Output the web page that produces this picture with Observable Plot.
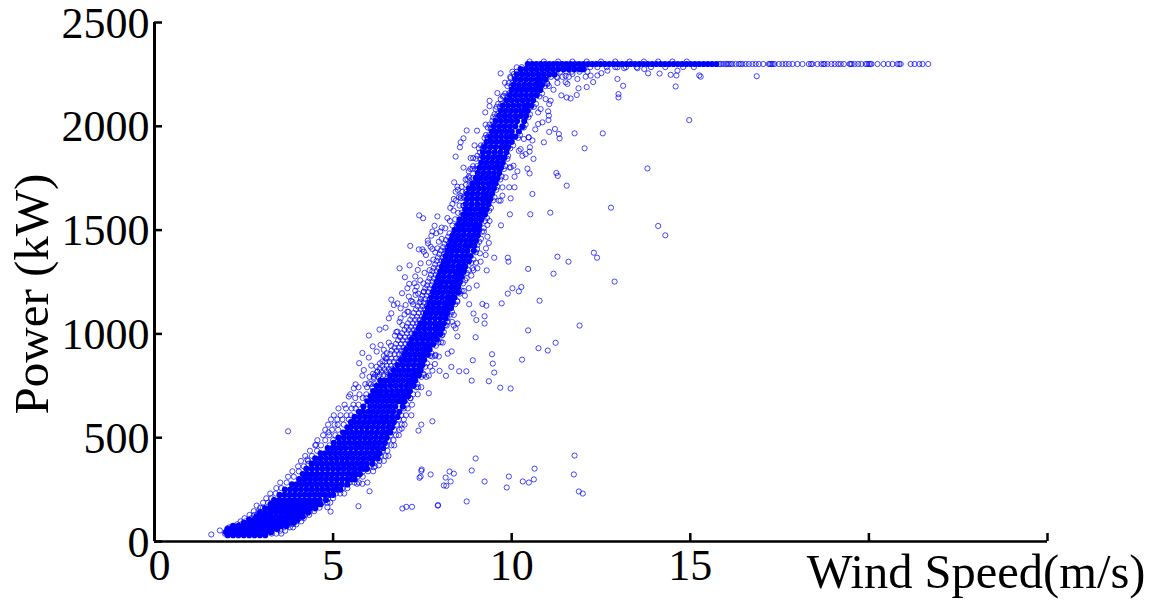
<!DOCTYPE html>
<html>
<head>
<meta charset="utf-8">
<script src="https://cdn.jsdelivr.net/npm/d3@7"></script>
<script src="https://cdn.jsdelivr.net/npm/@observablehq/plot@0.6"></script>
<style>html,body{margin:0;padding:0;background:#fff}</style>
</head>
<body>
<div id="chart"></div>
<script>
const xLabelTicks = [5, 10, 15];
const xZeroTick = [0];
const xTicks = [0, 5, 10, 15, 20, 25];
const yTicks = [0, 500, 1000, 1500, 2000, 2500];
const xTitle = "Wind Speed(m/s)";
const yTitle = "Power (kW)";

// Overplotted core of the cloud: [power, wind speeds...]
const coreRows = [
[30,2.05,2.2,2.35,2.5,2.65,2.8,2.95,3.1],
[45,2.0,2.14,2.28,2.42,2.56,2.7,2.84,2.98,3.12,3.26],
[60,2.05,2.18,2.31,2.45,2.6,2.74,2.88,3.02,3.16,3.3,3.44],
[75,2.2,2.35,2.5,2.65,2.8,2.95,3.1,3.25,3.4,3.55,3.7],
[90,2.5,2.64,2.78,2.92,3.06,3.2,3.34,3.48,3.62,3.76,3.9],
[105,2.65,2.8,2.95,3.1,3.25,3.4,3.55,3.7,3.85,4.0],
[120,2.85,2.98,3.12,3.26,3.4,3.54,3.68,3.82,3.96,4.05,4.15],
[140,2.95,3.1,3.25,3.4,3.55,3.7,3.85,4.0,4.15,4.3],
[160,3.1,3.24,3.38,3.52,3.66,3.8,3.94,4.08,4.22,4.36,4.5],
[180,3.25,3.4,3.55,3.7,3.85,4.0,4.15,4.3,4.45,4.55,4.65],
[200,3.35,3.5,3.64,3.78,3.92,4.06,4.2,4.34,4.48,4.62,4.8],
[225,3.5,3.64,3.78,3.92,4.06,4.2,4.34,4.48,4.62,4.76,4.9,5.0],
[250,3.65,3.8,3.95,4.1,4.25,4.4,4.55,4.7,4.85,5.0,5.1,5.2],
[275,3.85,3.98,4.12,4.26,4.4,4.54,4.68,4.82,4.96,5.1,5.24,5.4],
[300,4.05,4.2,4.35,4.5,4.65,4.8,4.95,5.1,5.25,5.4,5.5,5.6],
[325,4.15,4.28,4.42,4.56,4.7,4.84,4.98,5.12,5.26,5.4,5.54,5.65,5.75],
[350,4.25,4.4,4.55,4.7,4.85,5.0,5.15,5.3,5.45,5.6,5.75,5.85,5.95],
[375,4.4,4.54,4.68,4.82,4.96,5.1,5.24,5.38,5.52,5.66,5.8,5.94,6.1],
[400,4.5,4.65,4.8,4.95,5.1,5.25,5.4,5.55,5.7,5.85,6.0,6.12,6.25],
[425,4.65,4.78,4.92,5.06,5.2,5.34,5.48,5.62,5.76,5.9,6.04,6.18,6.3],
[450,4.85,4.98,5.1,5.22,5.35,5.5,5.65,5.8,5.95,6.1,6.25,6.4],
[475,5.02,5.18,5.32,5.46,5.6,5.74,5.88,6.02,6.16,6.3,6.45],
[500,5.15,5.3,5.45,5.6,5.75,5.9,6.05,6.2,6.35,6.5],
[525,5.28,5.38,5.52,5.66,5.8,5.94,6.08,6.22,6.36,6.48,6.6],
[550,5.4,5.5,5.65,5.8,5.95,6.1,6.25,6.4,6.55,6.65],
[575,5.5,5.58,5.72,5.86,6.0,6.14,6.28,6.42,6.56,6.7],
[600,5.6,5.75,5.9,6.05,6.2,6.35,6.5,6.65,6.8],
[625,5.72,5.84,5.98,6.12,6.26,6.4,6.54,6.68,6.85],
[650,5.85,6.04,6.18,6.32,6.46,6.6,6.74,6.95],
[675,5.96,6.1,6.24,6.38,6.52,6.66,6.8,6.9,7.0],
[700,6.05,6.18,6.3,6.44,6.58,6.72,6.86,6.98,7.1],
[725,6.12,6.24,6.35,6.5,6.65,6.8,6.95,7.05,7.15],
[750,6.22,6.34,6.45,6.6,6.75,6.9,7.05,7.15,7.25],
[775,6.32,6.44,6.55,6.68,6.82,6.96,7.1,7.2,7.3],
[800,6.6,6.75,6.9,7.05,7.2,7.3,7.4],
[825,6.7,6.84,6.98,7.12,7.26,7.36,7.45],
[850,6.8,6.95,7.1,7.25,7.4,7.5],
[875,6.9,7.03,7.16,7.3,7.44,7.55],
[900,7.0,7.14,7.28,7.42,7.54,7.65],
[925,7.05,7.2,7.35,7.5,7.6,7.7],
[950,7.15,7.28,7.42,7.56,7.68,7.8],
[975,7.2,7.35,7.5,7.65,7.78,7.9],
[1000,7.3,7.44,7.58,7.72,7.86,8.0],
[1025,7.4,7.55,7.7,7.85,7.95,8.05],
[1050,7.45,7.58,7.72,7.86,7.98,8.1],
[1075,7.55,7.7,7.85,8.0,8.15],
[1100,7.6,7.74,7.88,8.02,8.11,8.2],
[1125,7.65,7.8,7.95,8.1,8.2,8.3],
[1150,7.7,7.84,7.98,8.12,8.24,8.35],
[1175,7.75,7.9,8.05,8.2,8.3,8.4],
[1200,7.8,7.94,8.08,8.22,8.36,8.5],
[1225,7.85,8.0,8.15,8.3,8.4,8.5],
[1250,7.9,8.04,8.18,8.32,8.44,8.55],
[1275,7.95,8.1,8.25,8.4,8.5,8.6],
[1300,8.0,8.14,8.28,8.42,8.54,8.66],
[1325,8.05,8.2,8.35,8.5,8.6,8.7],
[1350,8.1,8.24,8.38,8.52,8.66,8.8],
[1375,8.15,8.3,8.45,8.6,8.72,8.85],
[1400,8.2,8.34,8.48,8.62,8.76,8.94],
[1425,8.25,8.4,8.55,8.7,8.82,8.95],
[1450,8.3,8.44,8.58,8.72,8.86,9.0],
[1475,8.35,8.5,8.65,8.8,8.92,9.05],
[1500,8.4,8.54,8.68,8.82,8.96,9.08],
[1525,8.5,8.64,8.78,8.92,9.01,9.1],
[1550,8.55,8.7,8.85,9.0,9.15],
[1575,8.65,8.78,8.92,9.06,9.15,9.25],
[1600,8.7,8.84,8.98,9.12,9.21,9.3],
[1625,8.72,8.88,9.04,9.2,9.35],
[1650,8.75,8.89,9.03,9.17,9.28,9.4],
[1675,8.75,8.9,9.05,9.2,9.32,9.45],
[1700,8.8,8.94,9.08,9.22,9.36,9.5],
[1725,8.9,9.05,9.2,9.35,9.45,9.55],
[1750,9.0,9.14,9.28,9.42,9.51,9.6],
[1775,9.05,9.2,9.35,9.5,9.65],
[1800,9.1,9.24,9.38,9.52,9.61,9.7],
[1825,9.15,9.3,9.45,9.6,9.75],
[1850,9.2,9.34,9.48,9.62,9.71,9.8],
[1875,9.2,9.36,9.52,9.68,9.85],
[1900,9.25,9.4,9.55,9.7,9.8,9.9],
[1925,9.3,9.44,9.58,9.72,9.86,10.0],
[1950,9.4,9.55,9.7,9.85,9.98,10.1],
[1975,9.45,9.58,9.72,9.86,10.0,10.2],
[2000,9.5,9.65,9.8,9.95,10.1,10.3],
[2025,9.55,9.7,9.85,10.0,10.15,10.35],
[2050,9.65,9.8,9.95,10.1,10.25,10.4],
[2075,9.7,9.84,9.98,10.12,10.26,10.35,10.45],
[2100,9.75,9.9,10.05,10.2,10.35,10.45,10.55],
[2125,9.85,10.0,10.15,10.3,10.45,10.6],
[2150,9.95,10.1,10.25,10.4,10.55,10.7],
[2175,10.0,10.14,10.28,10.42,10.56,10.68,10.8],
[2200,10.05,10.2,10.35,10.5,10.65,10.75,10.85],
[2225,10.1,10.25,10.4,10.55,10.7,10.82,10.95],
[2250,10.15,10.3,10.45,10.6,10.75,10.9,11.05,11.2],
[2275,10.25,10.4,10.55,10.7,10.85,11.0,11.15,11.3,11.45,11.6,11.75,11.9,12.0],
[2300,10.45,10.57,10.69,10.81,10.93,11.05,11.17,11.29,11.41,11.53,11.65,11.77,11.89,12.01,12.13,12.25,12.37,12.49,12.61,12.73,12.85,12.97,13.09,13.21,13.33,13.45,13.57,13.69,13.81,13.93,14.05,14.17,14.29,14.41,14.53,14.65,14.77,14.89,15.01,15.13,15.25,15.37,15.49,15.61,15.73]
];

// Heavily overlapping rings just left of the core: [power, wind speeds...]
const innerRows = [
[803,6.18,6.31,6.42,6.53],
[817,6.24,6.36,6.49,6.6],
[831,6.3,6.44,6.56,6.66],
[846,6.38,6.5,6.62,6.74],
[866,6.46,6.58,6.7,6.83],
[881,6.5,6.63,6.76,6.86],
[903,6.6,6.72,6.85,6.94],
[919,6.64,6.78,6.9,7.0],
[934,6.72,6.85,6.97,7.08],
[952,6.76,6.9,7.02,7.12],
[969,6.82,6.95,7.08,7.17],
[984,6.88,7.02,7.14,7.24],
[1003,6.93,7.07,7.19,7.28],
[1019,7.0,7.12,7.25,7.35],
[1034,7.06,7.18,7.31,7.41],
[1051,7.1,7.23,7.35,7.44],
[1068,7.16,7.3,7.42,7.52],
[1083,7.22,7.35,7.48,7.57],
[1101,7.26,7.4,7.52,7.62],
[1118,7.32,7.45,7.56,7.66],
[1133,7.37,7.5,7.62,7.7],
[1151,7.42,7.54,7.66,7.74],
[1168,7.46,7.58,7.7,7.79],
[1184,7.5,7.62,7.74,7.82],
[1202,7.54,7.66,7.78,7.87],
[1219,7.58,7.7,7.82,7.9],
[1234,7.63,7.76,7.88,7.95],
[1252,7.66,7.78,7.9,7.99],
[1268,7.7,7.82,7.94,8.03],
[1284,7.74,7.87,7.98,8.07],
[1302,7.78,7.9,8.02,8.1],
[1318,7.82,7.94,8.06,8.14],
[1334,7.86,7.98,8.1,8.18],
[1352,7.9,8.03,8.14,8.22],
[1368,7.94,8.06,8.18,8.26],
[1384,7.98,8.1,8.22,8.3],
[1402,8.02,8.14,8.26,8.33],
[1418,8.08,8.2,8.3,8.38],
[1434,8.12,8.24,8.35,8.42],
[1452,8.16,8.28,8.38,8.46],
[1468,8.22,8.33,8.43,8.5],
[1484,8.26,8.38,8.48,8.55],
[1522,8.34,8.46,8.56,8.62],
[1552,8.42,8.53,8.63,8.7],
[1583,8.5,8.6,8.7,8.76],
[1618,8.54,8.64,8.74,8.8],
[1654,8.58,8.68,8.78,8.84],
[1684,8.62,8.72,8.82,8.87],
[1718,8.72,8.82,8.9,8.96],
[1752,8.82,8.92,9.0,9.05]
];

// Ring points hugging the core: [power, wind speeds...]
const fringeRows = [
[38,1.97,2.12,3.28,3.41,3.55],
[52,2.03,2.24,3.52,3.66],
[68,2.09,2.16,3.62,3.79,3.88],
[83,2.32,2.44,3.86,3.97],
[97,2.41,2.55,3.98,4.11],
[112,2.52,2.71,4.06,4.18],
[128,2.66,2.79,4.22,4.33],
[146,2.78,2.91,4.35,4.47],
[163,2.96,3.04,4.49,4.62],
[187,3.04,3.18,4.7,4.84,4.92],
[208,3.13,3.27,4.86,5.0],
[231,3.24,3.39,5.08,5.2,5.31],
[257,3.41,3.55,5.27,5.4],
[284,3.52,3.7,5.46,5.6,5.72],
[312,3.74,3.9,5.68,5.83],
[338,3.86,4.04,5.84,5.98,6.12],
[362,4.02,4.18,6.03,6.18],
[388,4.1,4.3,6.3,6.42],
[412,4.22,4.41,6.33,6.47,6.55],
[437,4.35,4.55,6.39,6.52],
[463,4.5,4.66,4.9,6.5,6.63,6.71],
[488,4.56,4.78,5.0,6.55,6.69],
[512,4.72,4.89,5.06,6.61,6.76,6.84],
[538,4.78,4.97,5.14,6.71,6.86],
[563,4.86,5.04,5.13,5.3,6.78,6.92,7.0],
[588,4.94,5.12,5.26,5.44,6.84,6.98],
[608,5.02,5.21,5.38,5.5,6.91,7.04,7.19],
[641,5.15,5.36,5.52,5.63,6.98,7.09],
[659,5.32,5.57,5.71,7.06,7.21],
[691,5.62,5.83,5.93,7.16],
[709,5.48,5.74,5.93,7.24,7.37],
[743,5.71,5.95,6.1,7.33,7.47],
[758,5.9,6.06,6.16,7.36],
[793,6.02,6.14,6.26,7.47,7.61],
[808,6.12,7.53],
[842,6.22,7.58,7.72],
[858,6.31,7.63],
[894,6.42,7.72,7.86],
[907,6.5,7.75],
[943,6.62,7.88],
[958,6.56,7.95,8.07],
[992,6.73,8.04],
[1009,6.77,8.1],
[1043,6.94,8.15],
[1058,6.86,8.21,8.33],
[1094,7.0,8.29],
[1106,7.11,8.33],
[1143,7.24,8.42],
[1159,7.18,8.47],
[1194,7.38,8.55],
[1208,7.3,8.6],
[1243,7.53,8.64],
[1258,7.44,8.7],
[1294,7.56,8.74],
[1307,7.7,8.93,8.8],
[1343,7.68,8.87,9.0],
[1358,7.81,8.93],
[1393,7.86,9.0],
[1409,7.78,9.03],
[1444,7.96,9.09],
[1458,8.04,9.14],
[1493,8.0,9.17],
[1509,8.14,9.22],
[1544,8.27,9.25,9.38],
[1558,8.2,9.31],
[1594,8.37,9.37],
[1607,8.28,9.42],
[1643,8.44,9.48],
[1658,8.52,9.52],
[1694,8.49,9.57],
[1709,8.6,9.6],
[1744,8.71,9.68],
[1758,8.8,9.72],
[1794,8.84,8.98,9.06,9.78],
[1808,8.92,9.03,9.82],
[1844,9.0,9.12,9.88],
[1858,9.04,9.16,9.9],
[1894,9.08,9.19,9.96],
[1908,9.14,9.22,10.04],
[1944,9.24,9.33,10.18],
[1958,9.28,9.37,10.23],
[1994,9.33,9.43,10.34],
[2008,9.38,9.46,10.39],
[2044,9.48,9.57,10.47],
[2058,9.52,9.6,10.51],
[2094,9.58,9.67,10.62],
[2108,9.62,9.71,10.68],
[2144,9.75,9.88,10.78],
[2158,9.82,9.92,10.85],
[2194,9.88,9.99,10.94,11.04],
[2208,9.92,10.02,10.99],
[2238,9.96,10.08,11.1,11.26,11.42,11.6],
[2263,10.02,10.14,11.36,11.52,11.68,11.9,12.12],
[2285,10.28,10.6,11.1,11.62,12.2,12.4,12.66,12.9,13.2,13.5,13.9,14.3,14.8,15.1],
[2312,10.5,10.9,11.3,11.7,12.1,12.5,12.9,13.3,13.7,14.1,14.5,14.9]
];

// Rings further out on the high (left) side of the curve: [wind speed, power]
const scatterLeft = [
[7.41,1571],[7.52,1557],[7.92,1566],[7.16,1424],[7.40,1407],[7.50,1407],[7.65,1449],[7.66,1436],[7.84,1521],[7.78,1493],[7.75,1473],[7.89,1485],[8.04,1512],[6.86,1316],[7.14,1330],[7.01,1273],[7.30,1277],[7.37,1308],[7.45,1340],[7.6,1380],[7.54,1396],[7.73,1420],[7.92,1412],[6.63,1165],[6.93,1196],[7.13,1241],[7.34,1228],[7.28,1244],[7.08,1220],[6.80,1147],[6.70,1139],[6.56,1075],[6.63,1099],[6.30,1021],[6.47,1030],[6.0,992],[6.11,940],[5.82,908],[5.73,859],[6.0,886],[6.8,1011],[6.87,990],[6.33,947],[6.42,923],[6.47,883],[6.38,867],[6.22,915],[5.86,826],[5.82,799],[6.07,847],[5.58,738],[5.63,757],[5.44,698],[6.0,762],[6.14,786],[6.24,818],[6.89,1075],[7.08,1107],[7.03,1139],[7.22,1155],[7.31,1188],[7.54,1204],[7.45,1155],[6.89,1123],[7.12,1180],
[8.96,1908],[8.85,1847],[8.92,1847],[9.11,1874],[8.76,1746],[8.9,1794],[8.8,1783],[8.48,1709],[8.57,1666],[8.66,1658],[8.66,1618],[8.38,1650],[8.34,1626],[9.22,1902],[9.46,2027],[9.55,2083],[9.69,2131],[9.78,2147],[9.97,2232],[10.06,2252],[10.14,2284],[9.41,1987],[9.32,1947],[9.2,1882]
];

// Rings further out on the low (right) side of the curve: [wind speed, power]
const scatterRight = [
[8.8,1220],[9.02,1233],[8.66,1207],[8.69,1184],[8.48,1155],[8.38,1091],[8.48,1050],[8.38,1040],[8.18,1040],[8.06,995],[8.02,960],[7.96,891],[7.85,855],[7.78,823],[7.68,799],[7.54,802],[7.38,743],[7.17,690],[7.92,971],[7.87,899],[7.78,891],[8.2,1075],[8.29,1139],[8.54,1204],[8.74,1268],[8.87,1281],[9.04,1316],[9.13,1348],[9.27,1380],[9.28,1412],[9.36,1438],[9.32,1468],[9.22,1493],[9.32,1525],[9.11,1388],[9.04,1428],[8.9,1316],[8.43,1027],
[10.3,1995],[11.09,2123],[10.95,2131],[10.81,2083],[10.74,2067],[10.53,2091],[10.34,1939],[10.2,1882],[10.3,1858],[10.39,1866],[9.97,1802],[9.83,1754],[9.74,1706],[9.64,1642],[10.25,1890],[10.48,1947],[10.81,2203],[11.0,2203],[11.28,2235],[11.51,2243],[11.7,2252],[12.03,2276],[12.68,2268],[12.96,2284],[13.15,2280],[13.52,2280]
];

// Rated-power plateau, thinning out at high wind speed
const ratedPower = 2300;
const ratedSpeeds = [15.81,15.85,15.92,15.99,16.03,16.08,16.13,16.18,16.27,16.36,16.41,16.46,16.55,16.64,16.74,16.83,16.92,17.04,17.2,17.23,17.27,17.31,17.36,17.48,17.58,17.67,17.76,17.86,18.0,18.14,18.32,18.38,18.42,18.56,18.67,18.73,18.76,18.84,18.95,19.04,19.14,19.21,19.3,19.46,19.49,19.52,19.6,19.7,19.79,19.91,19.95,20.0,20.04,20.07,20.24,20.41,20.54,20.66,20.8,20.85,20.89,21.17,21.28,21.41,21.5,21.66];

// Isolated points: [wind speed, power]
const outliers = [
[12.78,1608],[11.08,1584],[10.52,1576],[9.95,1576],[9.7,1523],[12.3,1391],[12.39,1367],[11.28,1372],[11.59,1348],[9.89,1367],[9.91,1348],[9.51,1367],[10.46,1313],[11.17,1290],[12.88,1252],[9.3,1306],[10.27,1226],[10.02,1220],[10.2,1205],[9.89,1194],[10.78,1160],[9.72,1147],[9.18,1144],[9.29,1136],[8.81,1143],[8.93,1098],[9.24,1085],[9.01,1067],[9.24,1050],[11.9,1040],[10.46,1017],[8.48,988],[8.99,984],[11.23,957],[10.75,931],[11.01,920],[8.32,916],[8.21,905],[9.45,902],[8.91,873],[10.29,876],[9.47,857],[8.31,841],[7.98,822],[8.53,820],[8.73,820],[9.51,814],[8.16,798],[8.88,775],[9.36,772],[9.68,741],[9.97,737],[7.68,714],
[11.76,414],[11.74,323],[11.88,241],[11.99,231],[10.64,351],[10.62,299],[10.48,284],[10.31,289],[9.92,313],[9.86,260],[9.24,289],[8.99,400],[8.88,342],[8.26,337],[8.38,327],[8.15,308],[8.1,270],[8.74,193],[7.93,173],[7.48,347],[7.45,313],[7.73,323],[6.94,159],[7.05,167],[7.21,167],[7.94,175],[3.74,531],[7.42,307],[7.47,340],[8.17,268],[8.29,289],[7.39,534],[7.47,563],[7.78,579],[5.71,170],[6.92,544],[6.02,242],[6.28,367],[6.14,358],[5.67,278],[5.82,278],[5.96,284],[4.93,144],[4.84,165],[2.86,173],[1.59,34],[1.83,53],[2.04,63],[4.28,395],[4.31,374],[4.52,466],[4.87,526],
[9.69,2255],[9.81,2210],[9.6,2160],[9.38,2123],[9.38,2097],[9.26,2067],[9.27,2008],[8.74,1980],[9.03,1979],[8.65,1942],[8.57,1923],[8.55,1899],[8.43,1854],[8.65,1801],[8.39,1730],[8.43,1685],
[14.97,2030],[13.8,1797],[12.55,1966],[12.04,1894],[11.76,1966],[11.34,1942],[11.32,1963],[11.21,1987],[11.05,1973],[10.9,1923],[11.54,1714],[11.25,1775],[11.29,1761],[10.58,1674],[9.97,1653],[10.44,1796],[10.5,1773],[10.61,1843],[10.08,1706],[9.93,1706],[10.16,1783],[12.96,2228],[13.12,2195],[12.99,2155],[12.99,2139],[14.59,2192],[15.25,2245],[15.29,2239],[14.64,2268],[14.61,2245],[14.45,2248],[14.14,2254],[13.82,2255],[13.71,2276],[12.28,2213],[12.1,2189],[11.82,2151],[11.87,2183],[11.65,2134],[11.54,2139],[11.39,2149],[11.17,2176],[11.05,2107],[11.02,2072],[11.04,2051],[11.03,2030],[10.86,2019],[10.74,2011],[10.66,1985],[10.47,1947],[10.58,1932],[10.51,1899],[10.5,1878],[10.05,1810],[9.94,1802],[10.08,1757],[9.69,1642],[9.74,1666],[12.51,2256],[12.4,2245],[12.21,2244],[12.07,2239],[11.84,2228],[11.56,2204],[11.51,2212],[11.28,2209],[16.86,2241],
[14.1,1520],[14.3,1475]
];

const expand = rows => rows.flatMap(([p, ...xs]) => xs.map(x => [x, p]));
const corePoints = expand(coreRows);
const ringPoints = [...expand(innerRows), ...expand(fringeRows), ...scatterLeft, ...scatterRight, ...ratedSpeeds.map(x => [x, ratedPower]), ...outliers];
const blue = "#0000ff";
const serif = "Liberation Serif";

const chart = Plot.plot({
  width: 1156,
  height: 600,
  marginLeft: 154,
  marginRight: 109,
  marginTop: 22,
  marginBottom: 59,
  style: {fontFamily: serif, background: "#fff", color: "#000"},
  x: {domain: [0, 25]},
  y: {domain: [0, 2500]},
  marks: [
    Plot.dot(corePoints, {x: d => d[0], y: d => d[1], r: 3.1, fill: blue, stroke: "none"}),
    Plot.dot(ringPoints, {x: d => d[0], y: d => d[1], r: 2.6, fill: "none", stroke: blue, strokeWidth: 0.9, strokeOpacity: 0.8}),
    Plot.ruleY([0], {stroke: "#000", strokeWidth: 2.5}),
    Plot.ruleX([0], {stroke: "#000", strokeWidth: 3}),
    Plot.axisX(xTicks, {tickSize: -8, tickFormat: () => "", label: null, strokeWidth: 2.5, stroke: "#000"}),
    Plot.axisY(yTicks, {tickSize: -8, tickFormat: () => "", label: null, strokeWidth: 2.5, stroke: "#000"}),
    Plot.axisX(xLabelTicks, {tickSize: 0, tickPadding: 7, fontSize: 44, label: null, fill: "#000", tickFormat: d => String(d)}),
    Plot.axisX(xZeroTick, {tickSize: 0, tickPadding: 7, fontSize: 44, label: null, fill: "#000", dx: 5, tickFormat: d => String(d)}),
    Plot.axisY(yTicks, {tickSize: 0, tickPadding: 5, fontSize: 44, label: null, fill: "#000", dy: 1, tickFormat: d => String(d)}),
    Plot.text([xTitle], {frameAnchor: "bottom-right", text: d => d, fontSize: 48.5, fill: "#000", dx: 98, dy: 46, lineAnchor: "bottom", textAnchor: "end"}),
    Plot.text([yTitle], {frameAnchor: "left", text: d => d, fontSize: 49, fill: "#000", rotate: -90, dx: -122, dy: 12, lineAnchor: "middle", textAnchor: "middle"})
  ]
});
document.getElementById("chart").appendChild(chart);
</script>
</body>
</html>
